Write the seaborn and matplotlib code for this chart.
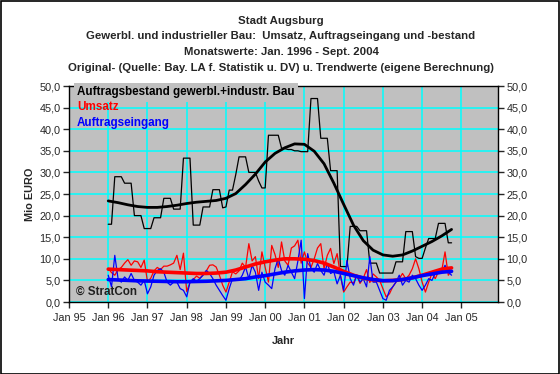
import numpy as np
import pandas as pd
import matplotlib
matplotlib.use("Agg")
import matplotlib.pyplot as plt
import seaborn as sns
from matplotlib.patches import Rectangle

# ---- data (Mio EURO), monthly from Jan 1996 ----
black_raw = [18, 18, 29, 29, 29, 27.5, 27.5, 27.5, 20, 20, 20, 17,
             17, 17, 19.5, 19.5, 19.5, 24, 24, 24, 21.5, 21.5, 21.5, 33.3,
             33.3, 33.3, 17.8, 17.8, 17.8, 22, 22, 22, 26, 26, 26, 21.8,
             22, 25.9, 25.9, 29.5, 33.6, 33.6, 33.6, 30, 30, 30, 28, 26.4,
             26.4, 38.6, 38.6, 38.6, 38.6, 35.6, 35.5, 35.3, 35.3, 35.0, 35.0, 34.8,
             34.8, 34.8, 47.1, 47.1, 47.1, 37.9, 37.9, 37.9, 30.4, 30.4, 30.4, 8.2,
             8.2, 8.2, 17.5, 17.5, 17.5, 16.5, 16.5, 16.5, 9.0, 9.0, 9.0, 6.7,
             6.7, 6.7, 6.7, 6.7, 9.3, 9.3, 9.3, 16.3, 16.3, 16.3, 10.5, 10.1,
             10.1, 12.5, 14.7, 14.7, 14.7, 18.2, 18.2, 18.2, 13.7, 13.7]

red_raw = [7.8, 6.8, 6.2, 7.5, 8.0, 9.0, 9.8, 8.5, 9.5, 9.3, 8.0, 9.7,
           4.7, 5.5, 7.2, 8.0, 7.5, 8.3, 8.3, 8.6, 9.0, 10.8, 7.5, 11.3,
           2.4, 4.5, 5.2, 6.0, 5.5, 6.3, 7.2, 8.5, 8.6, 8.1, 6.2, 3.9,
           2.3, 4.6, 7.0, 6.5, 7.2, 9.0, 8.0, 13.5, 9.5, 10.5, 5.4, 11.6,
           8.0, 4.6, 13.1, 11.0, 8.0, 13.9, 9.5, 8.5, 12.5, 13.0, 14.3, 9.0,
           11.6, 9.0, 8.0, 10.0, 12.5, 13.5, 7.7, 10.8, 12.4, 8.9, 11.2, 6.2,
           2.3, 3.5, 4.6, 4.4, 6.2, 4.3, 5.5, 7.5, 4.5, 6.5, 5.8, 5.0,
           3.1, 1.2, 1.9, 3.5, 4.6, 5.4, 6.6, 5.4, 6.2, 7.7, 10.0, 7.7,
           4.6, 2.3, 4.6, 6.6, 5.4, 7.0, 7.3, 11.6, 6.2, 7.3]

blue_raw = [6.2, 3.5, 10.8, 5.4, 4.6, 5.8, 5.0, 6.6, 5.0, 4.6, 3.9, 5.0,
            1.9, 3.5, 6.2, 7.3, 7.7, 6.9, 4.6, 3.9, 4.6, 4.6, 3.1, 2.7,
            1.2, 4.6, 5.4, 4.8, 5.4, 6.2, 7.3, 6.6, 5.4, 3.9, 2.7, 1.5,
            0.4, 3.1, 5.4, 5.2, 5.0, 6.2, 8.1, 5.4, 8.5, 6.9, 2.7, 6.9,
            4.6, 3.9, 3.1, 7.7, 10.0, 7.3, 6.2, 8.5, 6.9, 5.4, 9.5, 14.3,
            0.8, 11.2, 7.7, 6.9, 8.9, 7.3, 6.2, 8.9, 6.6, 7.0, 4.2, 6.2,
            2.7, 9.6, 5.4, 3.9, 6.2, 4.6, 5.4, 3.5, 10.5, 4.6, 4.6, 2.7,
            0.8, 0.4, 2.7, 3.5, 4.6, 6.2, 3.9, 5.0, 4.6, 6.2, 5.4, 3.9,
            2.7, 3.9, 5.4, 5.0, 6.6, 7.3, 6.9, 8.5, 6.9, 6.2]

# trend values, every third month from Jan 1996
black_trend = [23.4, 23.0, 22.5, 22.1, 21.9, 21.9, 22.1, 22.4, 22.8, 23.1, 23.3, 23.5,
               24.0, 25.1, 27.2, 29.6, 32.4, 34.4, 35.7, 36.6, 36.5, 34.9, 32.0, 27.5,
               22.6, 17.8, 14.2, 12.0, 10.9, 10.6, 10.9, 11.8, 12.9, 14.0, 15.3, 16.8]
red_trend = [7.6, 7.5, 7.4, 7.3, 7.2, 7.0, 6.9, 6.8, 6.7, 6.6, 6.6, 6.7,
             6.9, 7.4, 8.1, 8.8, 9.3, 9.7, 10.0, 10.0, 9.9, 9.6, 9.0, 8.1,
             7.1, 6.2, 5.5, 5.1, 4.9, 5.0, 5.2, 5.6, 6.2, 6.9, 7.6, 7.9]
blue_trend = [5.2, 5.1, 5.0, 4.9, 4.85, 4.8, 4.75, 4.7, 4.7, 4.75, 4.8, 4.9,
              5.0, 5.2, 5.4, 5.8, 6.1, 6.5, 6.9, 7.2, 7.4, 7.5, 7.4, 7.1,
              6.6, 6.1, 5.6, 5.2, 4.95, 4.95, 5.2, 5.6, 6.1, 6.5, 6.9, 7.1]

year_labels = ["Jan 95", "Jan 96", "Jan 97", "Jan 98", "Jan 99", "Jan 00",
               "Jan 01", "Jan 02", "Jan 03", "Jan 04", "Jan 05"]
titles = ["Stadt Augsburg",
          "Gewerbl. und industrieller Bau:  Umsatz, Auftragseingang und -bestand",
          "Monatswerte: Jan. 1996 - Sept. 2004",
          "Original- (Quelle: Bay. LA f. Statistik u. DV) u. Trendwerte (eigene Berechnung)"]

# month number counted from Jan 95
raw = pd.DataFrame({"m": np.arange(len(red_raw)) + 12,
                    "bestand": black_raw, "umsatz": red_raw, "eingang": blue_raw})
trend = pd.DataFrame({"m": np.arange(len(red_trend)) * 3 + 12,
                      "bestand": black_trend, "umsatz": red_trend, "eingang": blue_trend})

sns.set_style("ticks")
plt.rcParams["font.family"] = ["Liberation Sans", "DejaVu Sans"]

fig = plt.figure(figsize=(5.6, 3.74), dpi=100)
ax = fig.add_axes([69 / 560, 1 - 302 / 374, 429 / 560, 216 / 374])
ax.set_facecolor("#C0C0C0")

# thin monthly lines
sns.lineplot(data=raw, x="m", y="bestand", ax=ax, color="black", lw=0.9)
sns.lineplot(data=raw, x="m", y="umsatz", ax=ax, color="red", lw=0.9)
sns.lineplot(data=raw, x="m", y="eingang", ax=ax, color="blue", lw=0.9)
# thick trend lines
sns.lineplot(data=trend, x="m", y="bestand", ax=ax, color="black", lw=2.0)
sns.lineplot(data=trend, x="m", y="umsatz", ax=ax, color="red", lw=2.6)
sns.lineplot(data=trend, x="m", y="eingang", ax=ax, color="blue", lw=2.6)

ax.set_xlim(0, 131.2)
ax.set_ylim(0, 50)
ax.set_xticks(np.arange(0, 121, 12))
ax.set_xticklabels(year_labels, fontsize=7.8)
yt = np.arange(0, 51, 5)
ax.set_yticks(yt)
ax.set_yticklabels([f"{v:.1f}".replace(".", ",") for v in yt], fontsize=7.8)
ax.tick_params(axis="y", right=True, labelright=True, length=4, width=1, pad=2)
ax.tick_params(axis="x", length=4, width=1, pad=4)
ax.grid(True, color="#00FFFF", lw=1.1)
ax.set_axisbelow(True)
for s in ax.spines.values():
    s.set_visible(True)
    s.set_color("black")
    s.set_linewidth(1)

ax.set_xlabel("")
ax.set_ylabel("")
fig.text(30 / 560, 1 - 194 / 374, "Mio EURO", rotation=90, ha="center", va="center",
         fontsize=7.8, fontweight="bold")
fig.text(283 / 560, 1 - 341 / 374, "Jahr", ha="center", va="center",
         fontsize=7.8, fontweight="bold")

for i, t in enumerate(titles):
    fig.text(281 / 560, 1 - (20.5 + 15.8 * i) / 374, t, ha="center", va="center",
             fontsize=8.2, fontweight="bold")

# legend as coloured text
leg_x = 77 / 560
fig.text(leg_x, 1 - 92 / 374, "Auftragsbestand gewerbl.+industr. Bau", color="black",
         fontsize=8.4, fontweight="bold", va="center",
         bbox=dict(facecolor="#C0C0C0", edgecolor="none", pad=2.5))
fig.text(leg_x, 1 - 107.5 / 374, "Umsatz", color="red", fontsize=8.4,
         fontweight="bold", va="center")
fig.text(leg_x, 1 - 123 / 374, "Auftragseingang", color="blue", fontsize=8.4,
         fontweight="bold", va="center")

fig.text(76 / 560, 1 - 292 / 374, "\u00a9 StratCon", fontsize=8.4, fontweight="bold",
         va="center", color="#202020")

fig.patches.append(Rectangle((0.001, 0.001), 0.997, 0.996, transform=fig.transFigure,
                             fill=False, edgecolor="black", lw=1.2))

fig.savefig("out.png", dpi=100)
